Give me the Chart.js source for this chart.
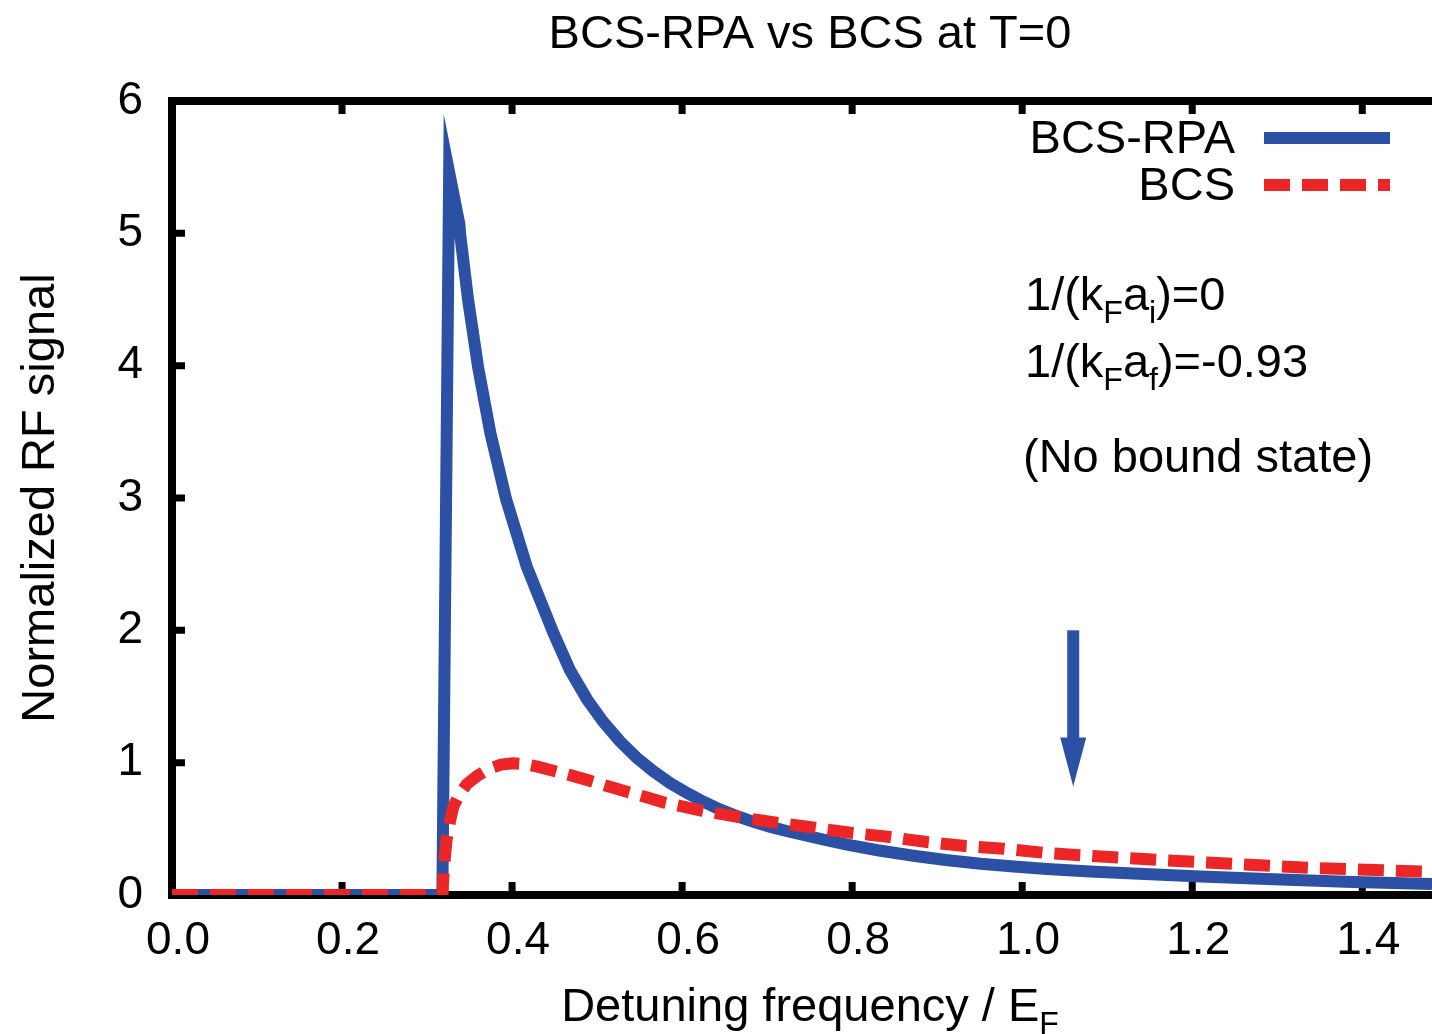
<!DOCTYPE html>
<html>
<head>
<meta charset="utf-8">
<title>BCS-RPA vs BCS at T=0</title>
<script src="https://cdn.jsdelivr.net/npm/chart.js@4.4.1/dist/chart.umd.min.js"></script>
<style>
  html, body { margin: 0; padding: 0; background: #fff; }
  canvas { display: block; }
</style>
</head>
<body>
<canvas id="rf" width="1432" height="1034"></canvas>
<script>
"use strict";

// values (detuning in units of E_F)
const rpaFreq = [0, 0.318, 0.326, 0.338, 0.3388, 0.3482, 0.36, 0.3745, 0.393, 0.4173, 0.4486,
  0.468, 0.488, 0.507, 0.527, 0.546, 0.566, 0.586, 0.606, 0.625, 0.645, 0.665, 0.684, 0.704,
  0.724, 0.762, 0.794, 0.83, 0.872, 0.91, 0.951, 0.99, 1.029, 1.08, 1.131, 1.21, 1.288,
  1.38, 1.482];
const rpaSignal = [0, 0, 5.46, 5.07, 5.0, 4.5, 3.99, 3.49, 2.99, 2.48, 1.98,
  1.70, 1.48, 1.31, 1.16, 1.04, 0.935, 0.845, 0.77, 0.705, 0.645, 0.595, 0.553, 0.515,
  0.482, 0.425, 0.38, 0.338, 0.297, 0.264, 0.236, 0.215, 0.197, 0.178, 0.162, 0.14, 0.12,
  0.10, 0.083];

const bcsFreq = [0, 0.318, 0.320, 0.323, 0.327, 0.331, 0.338, 0.347, 0.359, 0.373, 0.387, 0.401,
  0.415, 0.430, 0.445, 0.466, 0.488, 0.511, 0.535, 0.557, 0.578, 0.621, 0.665, 0.707, 0.754,
  0.798, 0.842, 0.888, 0.933, 0.978, 1.024, 1.068, 1.159, 1.248, 1.339, 1.482];
const bcsSignal = [0, 0, 0.22, 0.42, 0.56, 0.67, 0.76, 0.84, 0.90, 0.955, 0.985, 0.995,
  0.99, 0.97, 0.945, 0.91, 0.87, 0.825, 0.78, 0.74, 0.70, 0.64, 0.59, 0.55, 0.51,
  0.47, 0.44, 0.40, 0.37, 0.35, 0.32, 0.30, 0.265, 0.235, 0.205, 0.175];

const xTickVals = [0, 0.2, 0.4, 0.6, 0.8, 1.0, 1.2, 1.4];
const xTickLabels = ["0.0", "0.2", "0.4", "0.6", "0.8", "1.0", "1.2", "1.4"];
const yTickVals = [0, 1, 2, 3, 4, 5, 6];
const yTickLabels = ["0", "1", "2", "3", "4", "5", "6"];

// arrow marking the detuning of interest
const arrowFreq = 1.06;
const arrowFrom = 2.0;
const arrowTo = 0.82;

(function() {
  const FONT = '"Liberation Sans", Arial, Helvetica, sans-serif';
  const BLUE = "rgb(44, 80, 163)";
  const RED = "rgb(236, 38, 39)";
  const DASH = [26, 12];

  window.addEventListener("load", init);

  function init() {
    let data = {
      datasets: [
        {
          label: "BCS-RPA",
          data: rpaFreq.map((f, i) => ({x: f, y: rpaSignal[i]})),
          borderColor: BLUE,
          borderWidth: 12,
          pointRadius: 0,
          tension: 0,
          order: 2
        },
        {
          label: "BCS",
          data: bcsFreq.map((f, i) => ({x: f, y: bcsSignal[i]})),
          borderColor: RED,
          borderWidth: 12,
          borderDash: DASH,
          pointRadius: 0,
          tension: 0,
          order: 1
        }
      ]
    };

    new Chart(id("rf"), {
      type: "line",
      data: data,
      options: {
        responsive: false,
        animation: false,
        layout: {padding: {top: 101, right: 0, bottom: 0, left: 0}},
        plugins: {
          legend: {display: false},
          tooltip: {enabled: false},
          title: {display: false}
        },
        scales: {
          x: {
            type: "linear",
            min: 0,
            max: 1.482,
            grid: {display: false, drawTicks: false},
            border: {display: false},
            afterFit: s => { s.height = 139; },
            afterBuildTicks: s => { s.ticks = xTickVals.map(v => ({value: v})); },
            ticks: {
              padding: 19,
              labelOffset: 6,
              color: "#000",
              font: {family: FONT, size: 46},
              callback: v => xTickLabels[xTickVals.indexOf(v)]
            }
          },
          y: {
            type: "linear",
            min: 0,
            max: 6,
            grid: {display: false, drawTicks: false},
            border: {display: false},
            afterFit: s => { s.width = 172; },
            afterBuildTicks: s => { s.ticks = yTickVals.map(v => ({value: v})); },
            ticks: {
              padding: 29,
              color: "#000",
              font: {family: FONT, size: 46},
              callback: v => yTickLabels[yTickVals.indexOf(v)]
            },
            title: {
              display: true,
              text: "Normalized RF signal",
              color: "#000",
              font: {family: FONT, size: 47},
              padding: {top: 13, bottom: 0}
            }
          }
        }
      },
      plugins: [framePlugin, textPlugin]
    });
  }

  // black frame + inward ticks, drawn under the curves
  const framePlugin = {
    id: "frame",
    beforeDatasetsDraw(chart) {
      let ctx = chart.ctx;
      let a = chart.chartArea;
      let xs = chart.scales.x;
      let ys = chart.scales.y;
      ctx.save();
      ctx.strokeStyle = "#000";
      ctx.lineWidth = 8;
      ctx.lineCap = "square";
      ctx.beginPath();
      ctx.moveTo(a.right + 10, a.top);
      ctx.lineTo(a.left, a.top);
      ctx.lineTo(a.left, a.bottom);
      ctx.lineTo(a.right + 10, a.bottom);
      ctx.stroke();

      ctx.lineWidth = 7;
      ctx.lineCap = "butt";
      ctx.beginPath();
      xTickVals.forEach(v => {
        let px = xs.getPixelForValue(v);
        ctx.moveTo(px, a.bottom);
        ctx.lineTo(px, a.bottom - 13);
        ctx.moveTo(px, a.top);
        ctx.lineTo(px, a.top + 13);
      });
      yTickVals.forEach(v => {
        let py = ys.getPixelForValue(v);
        ctx.moveTo(a.left, py);
        ctx.lineTo(a.left + 13, py);
      });
      ctx.stroke();
      ctx.restore();
      // sharp tip on the RPA peak
      ctx.miterLimit = 30;
    },
    afterDatasetsDraw(chart) {
      chart.ctx.miterLimit = 10;
    }
  };

  // title, axis label with subscript, legend, notes and the arrow
  const textPlugin = {
    id: "texts",
    afterDraw(chart) {
      let ctx = chart.ctx;
      let xs = chart.scales.x;
      let ys = chart.scales.y;
      ctx.save();
      ctx.fillStyle = "#000";
      ctx.textBaseline = "alphabetic";

      ctx.font = "47px " + FONT;
      ctx.textAlign = "center";
      ctx.fillText("BCS-RPA vs BCS at T=0", 810, 48);

      subText(ctx, [["Detuning frequency / E", false], ["F", true]], 810, 1021, "center");

      // legend: text then sample line
      ctx.textAlign = "right";
      ctx.font = "47px " + FONT;
      ctx.fillText("BCS-RPA", 1235, 153);
      ctx.fillText("BCS", 1235, 200);
      ctx.lineWidth = 12;
      ctx.strokeStyle = BLUE;
      ctx.beginPath();
      ctx.moveTo(1264, 138);
      ctx.lineTo(1390, 138);
      ctx.stroke();
      ctx.strokeStyle = RED;
      ctx.setLineDash(DASH);
      ctx.beginPath();
      ctx.moveTo(1264, 185);
      ctx.lineTo(1390, 185);
      ctx.stroke();
      ctx.setLineDash([]);

      subText(ctx, [["1/(k", false], ["F", true], ["a", false], ["i", true], [")=0", false]], 1025, 310, "left");
      subText(ctx, [["1/(k", false], ["F", true], ["a", false], ["f", true], [")=-0.93", false]], 1025, 377, "left");
      ctx.textAlign = "left";
      ctx.font = "47px " + FONT;
      ctx.fillText("(No bound state)", 1023, 472);

      // arrow
      let ax = xs.getPixelForValue(arrowFreq);
      let y0 = ys.getPixelForValue(arrowFrom);
      let y1 = ys.getPixelForValue(arrowTo);
      let headLen = 49;
      ctx.fillStyle = BLUE;
      ctx.fillRect(ax - 6, y0, 12, (y1 - headLen) - y0 + 1);
      ctx.beginPath();
      ctx.moveTo(ax - 13, y1 - headLen);
      ctx.lineTo(ax + 13, y1 - headLen);
      ctx.lineTo(ax, y1);
      ctx.closePath();
      ctx.fill();
      ctx.restore();
    }
  };

  function subText(ctx, parts, x, y, align) {
    let total = 0;
    parts.forEach(p => {
      ctx.font = (p[1] ? "32px " : "47px ") + FONT;
      total += ctx.measureText(p[0]).width;
    });
    let cx = align === "center" ? x - total / 2 : x;
    ctx.textAlign = "left";
    parts.forEach(p => {
      ctx.font = (p[1] ? "32px " : "47px ") + FONT;
      ctx.fillText(p[0], cx, p[1] ? y + 13 : y);
      cx += ctx.measureText(p[0]).width;
    });
  }

  function id(name) {
    return document.getElementById(name);
  }
})();
</script>
</body>
</html>
